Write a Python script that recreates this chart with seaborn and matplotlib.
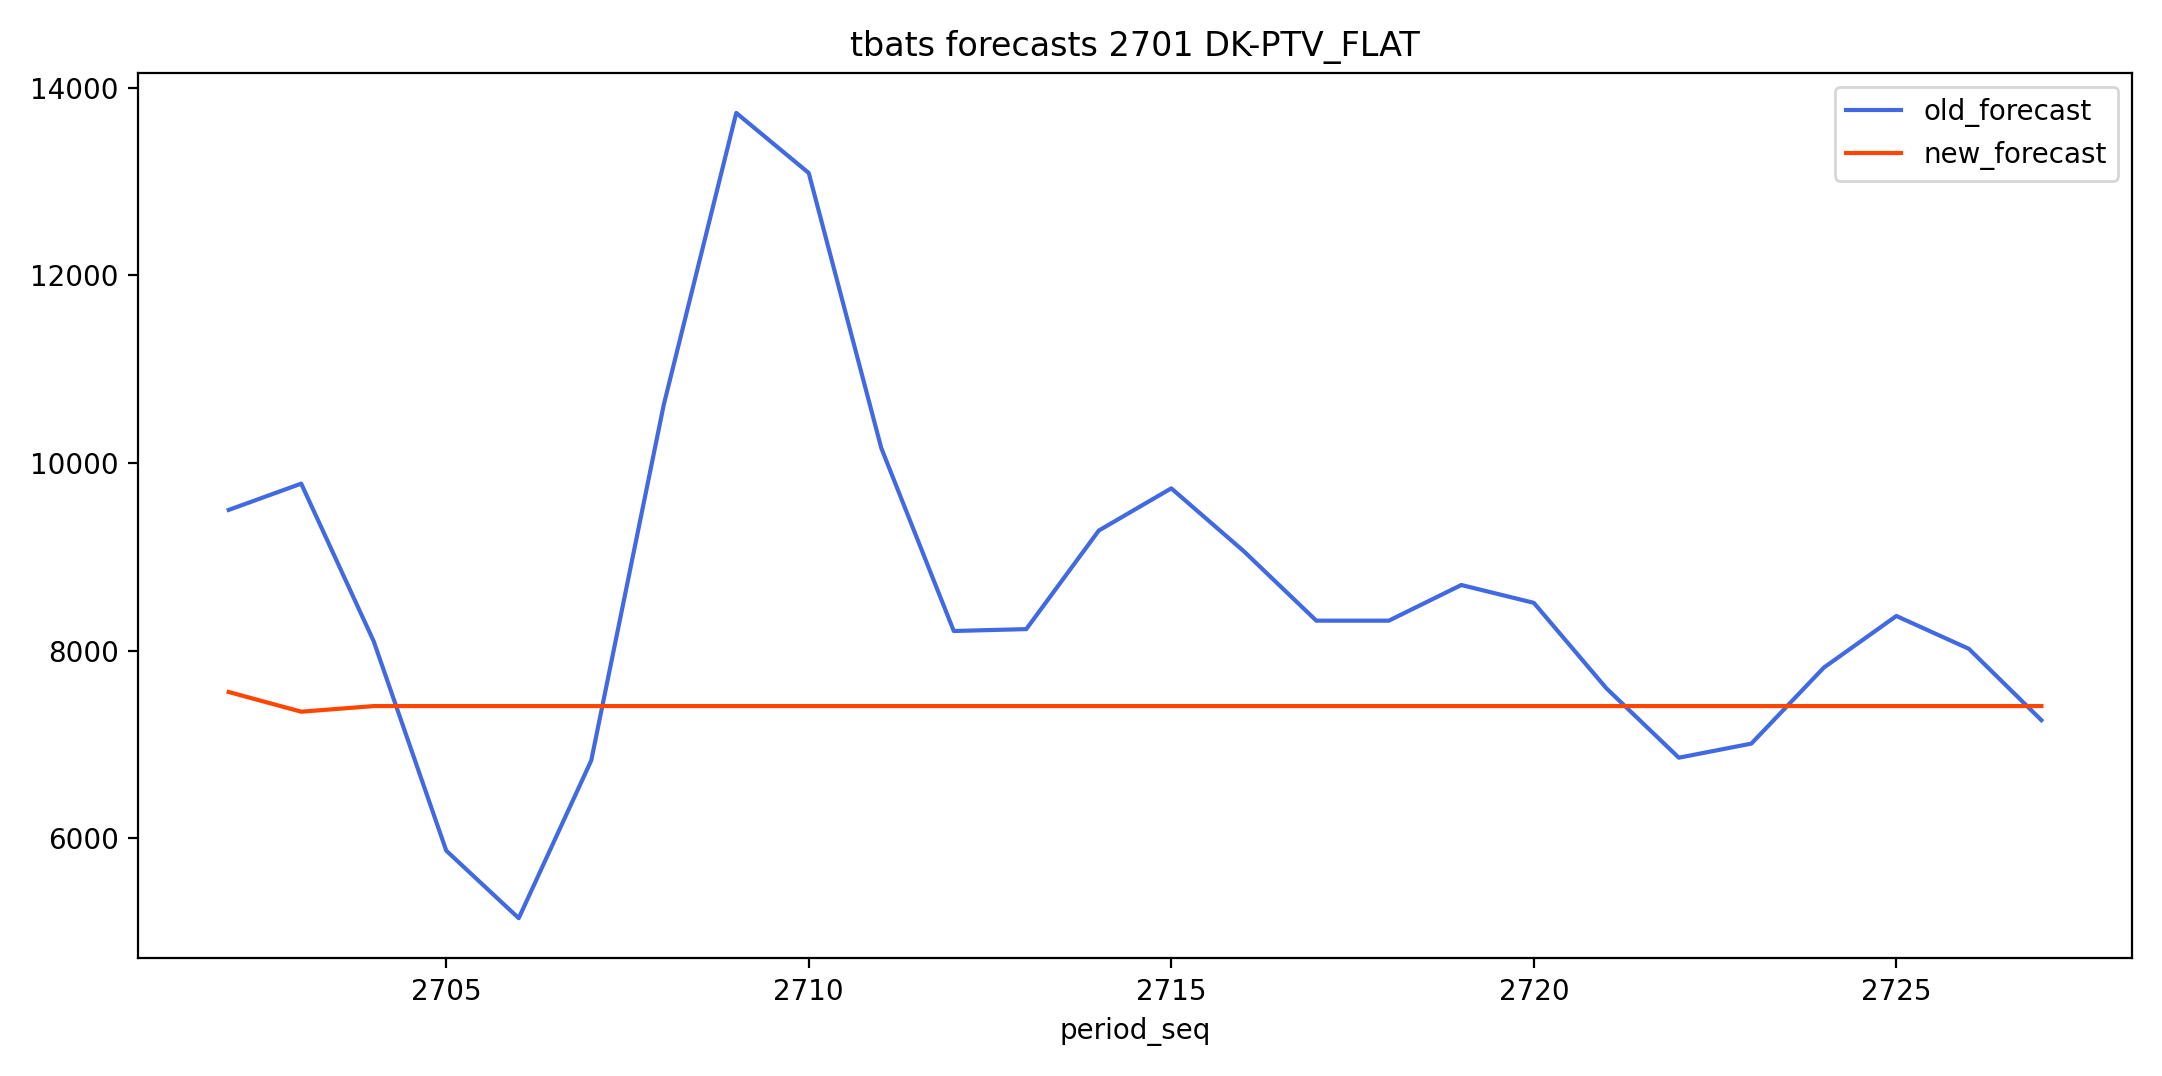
import matplotlib
matplotlib.use("Agg")
import matplotlib.pyplot as plt
import pandas as pd
import seaborn as sns

period_seq = list(range(2702, 2728))
old_forecast = [9500, 9780, 8100, 5870, 5150, 6830, 10620, 13730, 13090, 10160,
                8210, 8230, 9280, 9730, 9060, 8320, 8320, 8700, 8510, 7600,
                6860, 7010, 7820, 8370, 8020, 7260]
new_forecast = [7560, 7350, 7410] + [7410] * 23

df = pd.DataFrame({"period_seq": period_seq,
                   "old_forecast": old_forecast,
                   "new_forecast": new_forecast})

fig, ax = plt.subplots(figsize=(10.81, 5.38), dpi=200)
sns.lineplot(data=df, x="period_seq", y="old_forecast", color="royalblue", label="old_forecast", ax=ax)
sns.lineplot(data=df, x="period_seq", y="new_forecast", color="orangered", label="new_forecast", ax=ax)
ax.set_title("tbats forecasts 2701 DK-PTV_FLAT")
ax.set_xlabel("period_seq")
ax.set_ylabel("")
ax.legend(loc="upper right")
fig.tight_layout()
fig.savefig("out.png", dpi=200)
